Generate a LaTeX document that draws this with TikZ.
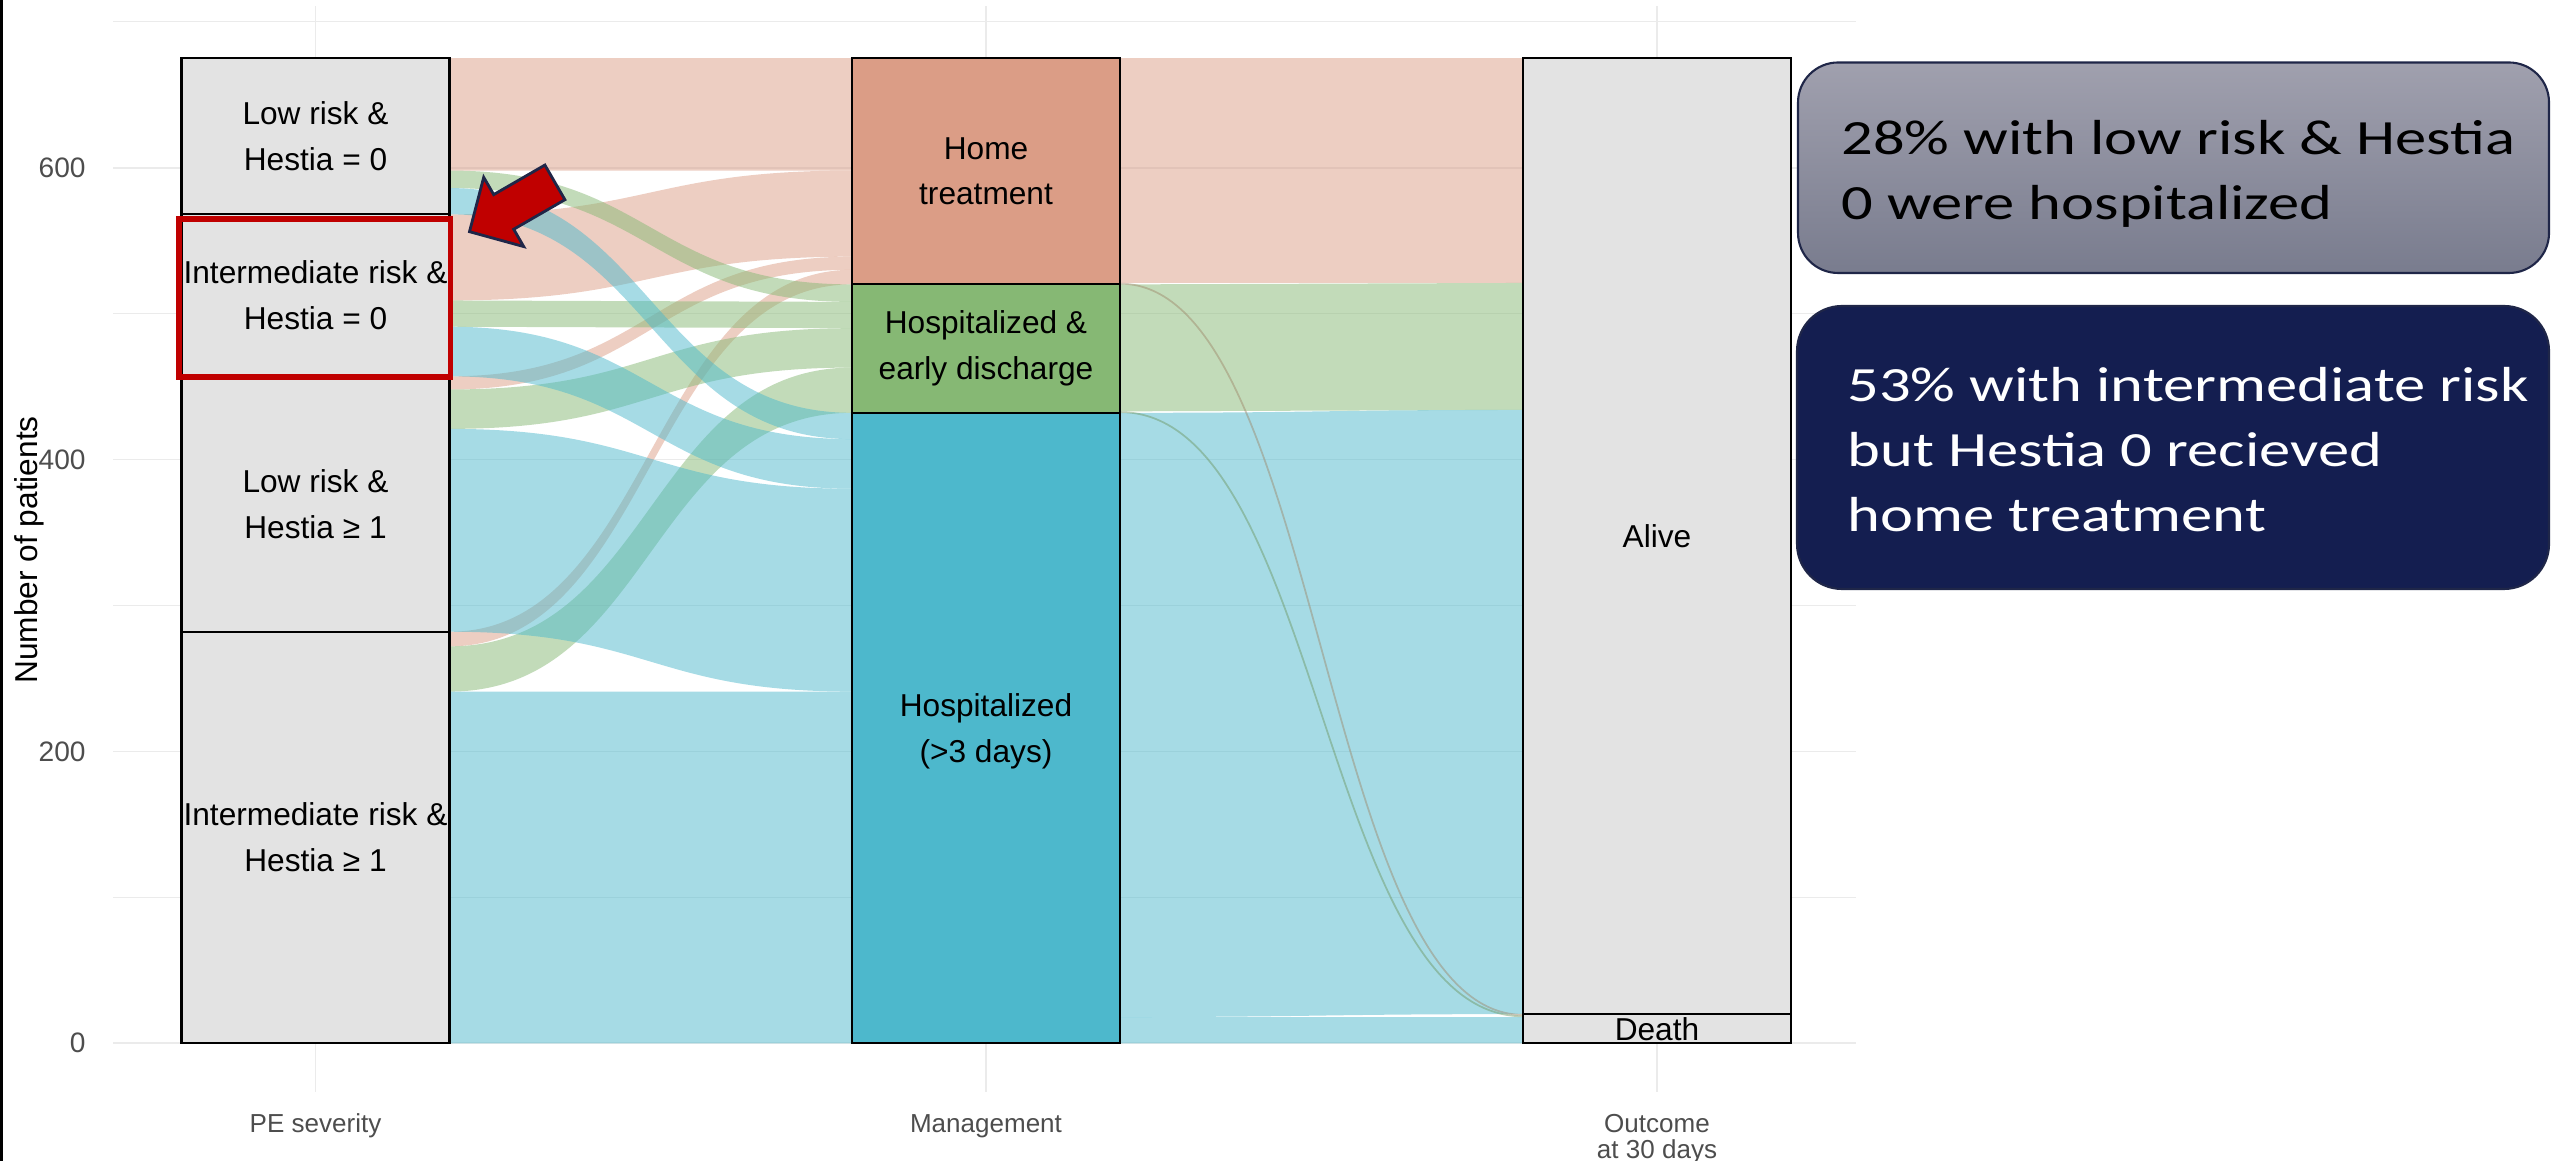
\documentclass[tikz,border=0pt]{standalone}
\usepackage{fontspec}
\setmainfont{Liberation Sans}
\newfontfamily\notefont[FakeStretch=1.27]{Carlito}

\definecolor{homec}{RGB}{219,157,134}
\definecolor{earlyc}{RGB}{134,184,116}
\definecolor{longc}{RGB}{77,184,204}
\definecolor{stratc}{RGB}{227,227,227}
\definecolor{gridc}{RGB}{235,235,235}
\definecolor{tickc}{RGB}{77,77,77}
\definecolor{alertred}{RGB}{192,0,0}
\definecolor{edgenavy}{RGB}{31,38,72}
\definecolor{notetop}{RGB}{160,160,174}
\definecolor{notebot}{RGB}{121,124,142}
\definecolor{notenavy}{RGB}{20,30,80}

% one flow: x0, x1, top and bottom at x0, top and bottom at x1, colour
\newcommand{\band}[7]{%
  \fill[#7, fill opacity=0.5] (#1,#3) .. controls ({(#1+#2)/2},#3) and ({(#1+#2)/2},#5) .. (#2,#5)
    -- (#2,#6) .. controls ({(#1+#2)/2},#6) and ({(#1+#2)/2},#4) .. (#1,#4) -- cycle;}

\begin{document}
\begin{tikzpicture}[x=0.01cm, y=0.01cm,
  stratum/.style={draw=black, line width=0.6pt},
  lbl/.style={align=center, font=\fontsize{9}{13}\selectfont},
  tick/.style={anchor=east, text=tickc, font=\fontsize{8}{9.6}\selectfont},
  axlbl/.style={anchor=base, align=center, text=tickc, font=\fontsize{7.4}{7.4}\selectfont},
  note/.style={anchor=base west, align=left, font=\notefont\fontsize{14}{18.5}\selectfont}]
\useasboundingbox (0,0) rectangle (2552,1161);

\begin{scope}[shift={(0,117.7)}, yscale=1.4594]
% grid
\foreach \v in {0,200,400,600} \draw[gridc, line width=0.5pt] (113,\v) -- (1856,\v);
\foreach \v in {100,300,500,700} \draw[gridc, line width=0.4pt] (113,\v) -- (1856,\v);
\foreach \x in {315.5,986,1657} \draw[gridc, line width=0.5pt] (\x,-33.4) -- (\x,710.8);
\foreach \v in {0,200,400,600} \node[tick] (tick\v) at (98,\v) {\v};

% flows PE severity -> management
\band{449.5}{852}{675}{598}{675}{598}{homec}
\band{449.5}{852}{568}{509}{598}{539}{homec}
\band{449.5}{852}{457}{448}{539}{530}{homec}
\band{449.5}{852}{282}{272}{530}{520}{homec}
\band{449.5}{852}{598}{586}{520}{508}{earlyc}
\band{449.5}{852}{509}{491}{508}{490}{earlyc}
\band{449.5}{852}{448}{421}{490}{463}{earlyc}
\band{449.5}{852}{272}{241}{463}{432}{earlyc}
\band{449.5}{852}{586}{568}{432}{414}{longc}
\band{449.5}{852}{491}{457}{414}{380}{longc}
\band{449.5}{852}{421}{282}{380}{241}{longc}
\band{449.5}{852}{241}{0}{241}{0}{longc}

% flows management -> outcome
\band{1120}{1523}{675}{521}{675}{521}{homec}
\band{1120}{1523}{520}{433}{521}{434}{earlyc}
\band{1120}{1523}{432}{18}{434}{20}{longc}
\band{1120}{1523}{18}{0}{18}{0}{longc}
\draw[homec!70!earlyc!80!black, opacity=0.45, line width=0.5pt] (1120,520.5) .. controls (1321.5,520.5) and (1321.5,19.5) .. (1523,19.5);
\draw[earlyc!80!black, opacity=0.45, line width=0.5pt] (1120,432.5) .. controls (1321.5,432.5) and (1321.5,18.5) .. (1523,18.5);

% strata
\draw[stratum, fill=stratc] (181.5,568) rectangle (449.5,675);
\draw[stratum, fill=stratc] (181.5,457) rectangle (449.5,568);
\draw[stratum, fill=stratc] (181.5,282) rectangle (449.5,457);
\draw[stratum, fill=stratc] (181.5,0) rectangle (449.5,282);
\node[lbl] (sevA) at (315.5,621.5) {Low risk \&\\Hestia = 0};
\node[lbl] (sevB) at (315.5,512.5) {Intermediate risk \&\\Hestia = 0};
\node[lbl] (sevC) at (315.5,369.5) {Low risk \&\\Hestia ≥ 1};
\node[lbl] (sevD) at (315.5,141) {Intermediate risk \&\\Hestia ≥ 1};

\draw[stratum, fill=homec] (852,520) rectangle (1120,675);
\draw[stratum, fill=earlyc] (852,432) rectangle (1120,520);
\draw[stratum, fill=longc] (852,0) rectangle (1120,432);
\node[lbl] (mgmtA) at (986,597.5) {Home\\treatment};
\node[lbl] (mgmtB) at (986,476) {Hospitalized \&\\early discharge};
\node[lbl] (mgmtC) at (986,214) {Hospitalized\\(>3 days)};

\draw[stratum, fill=stratc] (1523,20) rectangle (1791,675);
\draw[stratum, fill=stratc] (1523,0) rectangle (1791,20);
\node[lbl] (outA) at (1657,347.5) {Alive};
\node[lbl] (outB) at (1657,10) {Death};
\end{scope}

% axis titles
\node[rotate=90, font=\fontsize{9}{11}\selectfont] (ytitle) at (29,611) {Number of patients};
\node[axlbl] (axsev) at (315.5,28) {PE severity};
\node[axlbl] (axmgmt) at (986,28) {Management};
\node[axlbl] (axout) at (1657,2) {Outcome\\at 30 days};
\draw[black, line width=0.85pt] (1.5,0) -- (1.5,1161);

% highlight
\draw[alertred, line width=1.7pt] (179,784.3) rectangle (450.5,942);
\begin{scope}[shift={(469.5,929.3)}, rotate=30]
\draw[fill=alertred, draw=edgenavy, line width=0.8pt] (0,0) -- (39.5,40) -- (39.5,20) -- (98.6,20)
  -- (98.6,-20) -- (39.5,-20) -- (39.5,-40) -- cycle;
\end{scope}

% notes
\draw[draw=edgenavy, line width=0.6pt, rounded corners=4mm, top color=notetop, bottom color=notebot]
  (1798,888) rectangle (2549,1098.5);
\node[note] (noteA) at (1829,941.6) {28\% with low risk \& Hestia\\0 were hospitalized};
\draw[draw=edgenavy, fill=notenavy, line width=0.6pt, rounded corners=4.5mm] (1797,572) rectangle (2549,855);
\node[note, text=white] (noteB) at (1835,629.2) {53\% with intermediate risk\\but Hestia 0 recieved\\home treatment};
\end{tikzpicture}
\end{document}
